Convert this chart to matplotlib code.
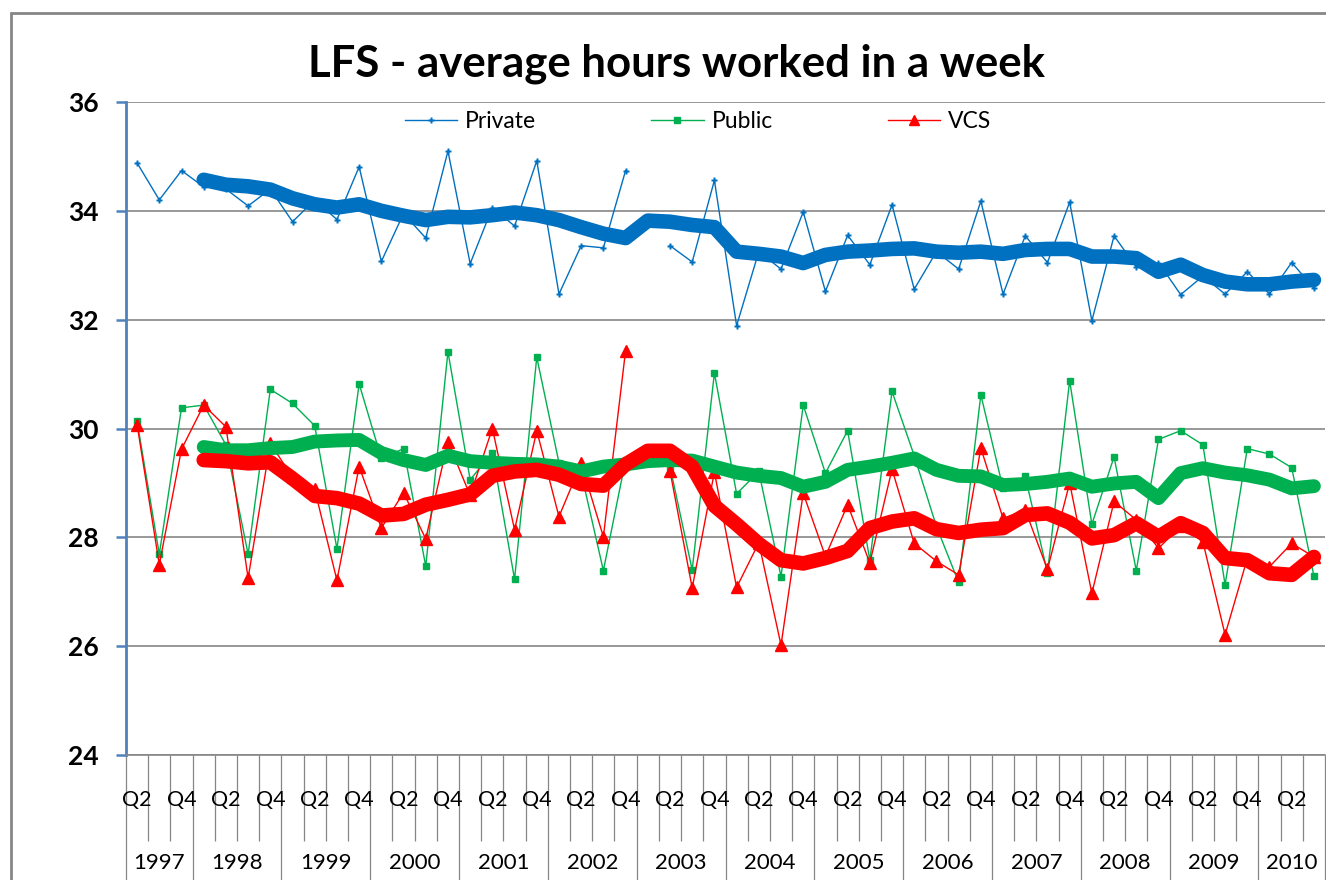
import numpy as np
import matplotlib
matplotlib.use("Agg")
import matplotlib.pyplot as plt
from matplotlib.patches import Rectangle
from matplotlib.transforms import blended_transform_factory

plt.rcParams['font.family'] = ['Lato', 'DejaVu Sans']

nan = np.nan
# ---- data ----
year_labels = ['1997', '1998', '1999', '2000', '2001', '2002', '2003',
               '2004', '2005', '2006', '2007', '2008', '2009', '2010']
quarters_per_year = [3, 4, 4, 4, 4, 4, 4, 4, 4, 4, 4, 4, 4, 3]
quarter_labels = (['Q2', 'Q3', 'Q4'] + ['Q1', 'Q2', 'Q3', 'Q4'] * 12
                  + ['Q1', 'Q2', 'Q3'])

private = [34.88, 34.20, 34.74, 34.44, 34.40, 34.09, 34.40, 33.80, 34.20, 33.84,
           34.81, 33.07, 33.95, 33.50, 35.10, 33.03, 34.06, 33.72, 34.92, 32.47,
           33.36, 33.32, 34.74, nan, 33.36, 33.06, 34.56, 31.89, 33.25, 32.93,
           33.98, 32.52, 33.55, 33.01, 34.11, 32.56, 33.25, 32.93, 34.18, 32.47,
           33.54, 33.05, 34.16, 31.98, 33.54, 32.97, 33.05, 32.46, 32.80, 32.47,
           32.88, 32.47, 33.05, 32.58]
public = [30.13, 27.69, 30.38, 30.43, 29.70, 27.69, 30.72, 30.46, 30.05, 27.79,
          30.82, 29.45, 29.63, 27.47, 31.41, 29.06, 29.55, 27.23, 31.31, 29.37,
          29.18, 27.39, 29.42, nan, 29.30, 27.40, 31.02, 28.80, 29.21, 27.28,
          30.43, 29.18, 29.96, 27.58, 30.68, 29.50, 28.20, 27.17, 30.62, 28.90,
          29.12, 27.35, 30.88, 28.24, 29.48, 27.39, 29.80, 29.96, 29.70, 27.13,
          29.63, 29.53, 29.28, 27.29]
vcs = [30.07, 27.50, 29.62, 30.43, 30.03, 27.25, 29.73, 29.10, 28.88, 27.21,
       29.30, 28.17, 28.82, 27.97, 29.76, 28.77, 30.00, 28.14, 29.96, 28.38,
       29.36, 28.01, 31.43, nan, 29.22, 27.07, 29.20, 27.08, 27.90, 26.02,
       28.81, 27.65, 28.60, 27.53, 29.25, 27.89, 27.56, 27.31, 29.64, 28.35,
       28.50, 27.41, 29.00, 26.97, 28.66, 28.32, 27.80, 28.20, 27.92, 26.21,
       27.61, 27.46, 27.89, 27.64]

private_trend = [nan, nan, nan, 34.57, 34.48, 34.45, 34.39, 34.23, 34.12, 34.06,
                 34.12, 34.00, 33.91, 33.83, 33.89, 33.88, 33.92, 33.97, 33.92, 33.83,
                 33.70, 33.58, 33.50, 33.82, 33.80, 33.74, 33.70, 33.25, 33.21, 33.16,
                 33.04, 33.19, 33.25, 33.27, 33.30, 33.31, 33.25, 33.23, 33.25, 33.21,
                 33.28, 33.30, 33.30, 33.16, 33.16, 33.13, 32.88, 33.01, 32.82, 32.70,
                 32.65, 32.65, 32.70, 32.73]
public_trend = [nan, nan, nan, 29.66, 29.60, 29.60, 29.64, 29.66, 29.76, 29.78,
                29.79, 29.55, 29.42, 29.33, 29.50, 29.40, 29.37, 29.35, 29.34, 29.30,
                29.21, 29.30, 29.34, 29.40, 29.42, 29.41, 29.30, 29.19, 29.13, 29.09,
                28.93, 29.02, 29.24, 29.30, 29.37, 29.45, 29.24, 29.13, 29.12, 28.96,
                28.98, 29.02, 29.08, 28.93, 28.99, 29.02, 28.72, 29.18, 29.27, 29.19,
                29.14, 29.06, 28.90, 28.94]
vcs_trend = [nan, nan, nan, 29.42, 29.40, 29.36, 29.38, 29.08, 28.76, 28.72,
             28.62, 28.40, 28.43, 28.60, 28.69, 28.79, 29.13, 29.21, 29.24, 29.15,
             28.98, 28.95, 29.34, 29.59, 29.59, 29.30, 28.58, 28.24, 27.88, 27.58,
             27.52, 27.62, 27.75, 28.17, 28.29, 28.35, 28.15, 28.08, 28.14, 28.17,
             28.41, 28.44, 28.27, 27.98, 28.04, 28.26, 28.01, 28.26, 28.08, 27.62,
             27.58, 27.34, 27.31, 27.64]

yticks = [24, 26, 28, 30, 32, 34, 36]
title = 'LFS - average hours worked in a week'

# ---- colours ----
c_blue = '#0070C0'
c_green = '#00B050'
c_red = '#FF0000'
c_grid = '#868686'
c_axis = '#4F81BD'

W, H = 1326, 880
fig = plt.figure(figsize=(W / 100, H / 100), dpi=100)
ax = fig.add_axes([126 / W, 1 - 755 / H, (1325 - 126) / W, (755 - 102) / H])

n = len(quarter_labels)
x = np.arange(n)

# thin series
l1, = ax.plot(x, private, color=c_blue, lw=1.0, marker='P', ms=5,
              mec='none', mfc=c_blue, zorder=3, label='Private')
l2, = ax.plot(x, public, color=c_green, lw=1.0, marker='s', ms=5,
              mec=c_green, mfc=c_green, zorder=3, label='Public')
l3, = ax.plot(x, vcs, color=c_red, lw=1.0, marker='^', ms=8,
              mec=c_red, mfc=c_red, zorder=3, label='VCS')
# thick trend lines
ax.plot(x, private_trend, color=c_blue, lw=10.5, solid_capstyle='round',
        solid_joinstyle='round', zorder=4)
ax.plot(x, public_trend, color=c_green, lw=10, solid_capstyle='round',
        solid_joinstyle='round', zorder=4)
ax.plot(x, vcs_trend, color=c_red, lw=10.5, solid_capstyle='round',
        solid_joinstyle='round', zorder=5)

ax.set_xlim(-0.5, n - 0.5)
ax.set_ylim(24, 36)
ax.set_yticks(yticks)
ax.set_yticklabels([str(v) for v in yticks], fontsize=19, fontweight='bold')
ax.yaxis.grid(True, color=c_grid, lw=1.2)
ax.set_axisbelow(True)
ax.tick_params(axis='y', direction='out', length=7.5, width=1.8,
               color=c_axis, pad=12)

for s in ['top', 'right']:
    ax.spines[s].set_visible(False)
ax.spines['left'].set_color(c_axis)
ax.spines['left'].set_linewidth(2)
ax.spines['bottom'].set_color(c_grid)
ax.spines['bottom'].set_linewidth(1.2)

# category axis: quarter boundaries (minor) and year boundaries (major)
bounds = np.arange(n + 1) - 0.5
year_starts = np.concatenate([[0], np.cumsum(quarters_per_year)]) - 0.5
ax.set_xticks(year_starts)
ax.set_xticklabels([''] * len(year_starts))
ax.set_xticks(bounds, minor=True)
ax.tick_params(axis='x', which='major', direction='out', length=95,
               width=0.9, color=c_grid)
ax.tick_params(axis='x', which='minor', direction='out', length=62,
               width=0.9, color=c_grid)

trans = blended_transform_factory(ax.transData, ax.transAxes)
axh = 755 - 102
for i, q in enumerate(quarter_labels):
    if i % 2 == 0:
        ax.text(i, -45 / axh, q, transform=trans, ha='center', va='center',
                fontsize=15.5, color='black', clip_on=False)
for k, yl in enumerate(year_labels):
    centre = (year_starts[k] + year_starts[k + 1]) / 2
    ax.text(centre, -108 / axh, yl, transform=trans, ha='center',
            va='center', fontsize=16, color='black', clip_on=False)

# legend
leg = fig.legend(handles=[l1, l2, l3], loc='center', ncol=3,
                 bbox_to_anchor=(698 / W, 1 - 122 / H), frameon=False,
                 fontsize=16.5, handlelength=2.3, columnspacing=5.0,
                 handletextpad=0.35, markerscale=0.9)

# title
fig.text(677 / W, 1 - 64 / H, title, ha='center', va='center',
         fontsize=31.5, fontweight='bold')

# outer chart border
fig.add_artist(Rectangle((11 / W, -0.05), 1.2, 1 - 13 / H + 0.05,
                         transform=fig.transFigure, fill=False,
                         edgecolor=c_grid, lw=2))

fig.savefig('out.png', dpi=100)
